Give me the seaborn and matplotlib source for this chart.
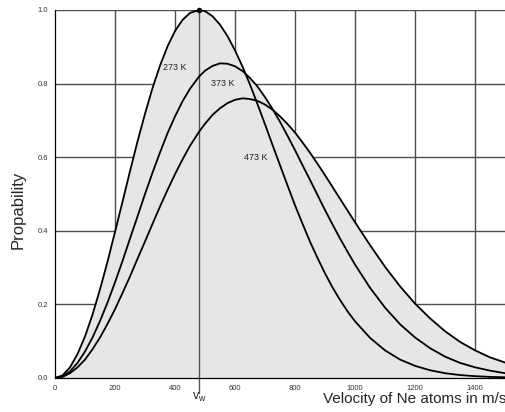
import matplotlib
matplotlib.use('Agg')

import matplotlib.pyplot as plt
import seaborn as sns
import numpy as np
import pandas as pd

# velocities in m/s, read along the x axis
velocity = [0, 25, 50, 75, 100, 125, 150, 175, 200, 225, 250, 275, 300, 325,
            350, 375, 400, 425, 450, 480, 500, 525, 550, 575, 600, 625, 650,
            675, 700, 725, 750, 775, 800, 825, 850, 875, 900, 925, 950, 975,
            1000, 1050, 1100, 1150, 1200, 1250, 1300, 1350, 1400, 1450, 1500]

# relative probability
p_273 = [0.0, 0.007, 0.029, 0.065, 0.113, 0.172, 0.241, 0.316, 0.397, 0.479,
         0.562, 0.643, 0.718, 0.788, 0.849, 0.901, 0.943, 0.973, 0.992, 1.0,
         0.997, 0.983, 0.960, 0.929, 0.890, 0.846, 0.797, 0.744, 0.689,
         0.633, 0.578, 0.523, 0.469, 0.419, 0.370, 0.326, 0.284, 0.246,
         0.212, 0.181, 0.154, 0.109, 0.075, 0.050, 0.033, 0.021, 0.013,
         0.008, 0.005, 0.003, 0.002]
p_373 = [0.0, 0.005, 0.018, 0.041, 0.072, 0.110, 0.155, 0.205, 0.260, 0.318,
         0.379, 0.439, 0.500, 0.558, 0.613, 0.665, 0.711, 0.752, 0.786,
         0.819, 0.835, 0.848, 0.855, 0.854, 0.847, 0.834, 0.815, 0.792,
         0.763, 0.731, 0.696, 0.658, 0.619, 0.578, 0.538, 0.497, 0.456,
         0.417, 0.379, 0.343, 0.308, 0.245, 0.191, 0.146, 0.110, 0.081,
         0.058, 0.041, 0.029, 0.020, 0.013]
p_473 = [0.0, 0.003, 0.013, 0.029, 0.050, 0.078, 0.110, 0.147, 0.187, 0.231,
         0.276, 0.324, 0.371, 0.419, 0.466, 0.511, 0.554, 0.594, 0.631,
         0.669, 0.691, 0.715, 0.733, 0.747, 0.756, 0.760, 0.758, 0.753,
         0.743, 0.729, 0.711, 0.690, 0.667, 0.640, 0.612, 0.582, 0.551,
         0.519, 0.487, 0.455, 0.423, 0.361, 0.302, 0.249, 0.202, 0.162,
         0.127, 0.098, 0.075, 0.056, 0.042]

temps = ["273 K", "373 K", "473 K"]
label_pos = [(400, 0.845), (560, 0.80), (668, 0.60)]
v_w = 480

df = pd.DataFrame({
    "velocity": velocity * 3,
    "probability": p_273 + p_373 + p_473,
    "temperature": [t for t in temps for _ in velocity],
})

sns.set_style("white")
plt.rcParams['font.family'] = ['Liberation Sans', 'DejaVu Sans']

fig = plt.figure(figsize=(5.06, 4.12), dpi=100)
ax = fig.add_axes([55 / 506, 34 / 412, 451 / 506, 368 / 412])

# grid first, the grey area covers it
for x in range(200, 1600, 200):
    ax.axvline(x, color="#4d4d4d", lw=1.0, zorder=0.5)
for y in [0.2, 0.4, 0.6, 0.8, 1.0]:
    ax.axhline(y, color="#4d4d4d", lw=1.0, zorder=0.5)

envelope = np.maximum.reduce([p_273, p_373, p_473])
ax.fill_between(velocity, 0, envelope, color="#e6e6e6", lw=0, zorder=2)

sns.lineplot(
    data=df,
    x="velocity",
    y="probability",
    units="temperature",
    estimator=None,
    color="black",
    linewidth=1.3,
    ax=ax,
    zorder=4
)

ax.set_xlim(0, 1503)
ax.set_ylim(0, 1.0)
ax.set_xticks(range(0, 1600, 200))
ax.set_yticks([0.0, 0.2, 0.4, 0.6, 0.8, 1.0])
ax.set_yticklabels(["0.0", "0.2", "0.4", "0.6", "0.8", "1.0"])
ax.tick_params(labelsize=5.5, length=2, width=0.8, color="#333333",
               labelcolor="#333333", pad=3)

ax.plot([v_w, v_w], [-0.04, 1.0], color="#555555", lw=1.0, zorder=3,
        clip_on=False)
ax.plot([v_w], [1.0], "o", color="black", ms=3, zorder=5, clip_on=False)

for t, (x, y) in zip(temps, label_pos):
    ax.text(x, y, t, fontsize=6.5, color="#222222", ha="center",
            va="center", zorder=6)

ax.text(v_w, -0.035, "v$_{\\mathregular{w}}$", fontsize=9, ha="center",
        va="top")

sns.despine(ax=ax, right=True, top=True)
for s in ["left", "bottom"]:
    ax.spines[s].set_color("black")
    ax.spines[s].set_linewidth(0.9)
    ax.spines[s].set_zorder(5)

ax.set_xlabel("")
ax.set_ylabel("")
fig.text(18 / 506, 0.49, "Propability", rotation=90, fontsize=12,
         ha="center", va="center")
fig.text(323 / 506, 6 / 412, "Velocity of Ne atoms in m/s", fontsize=11,
         ha="left", va="bottom")

fig.savefig("out.png", dpi=100)
plt.close(fig)
